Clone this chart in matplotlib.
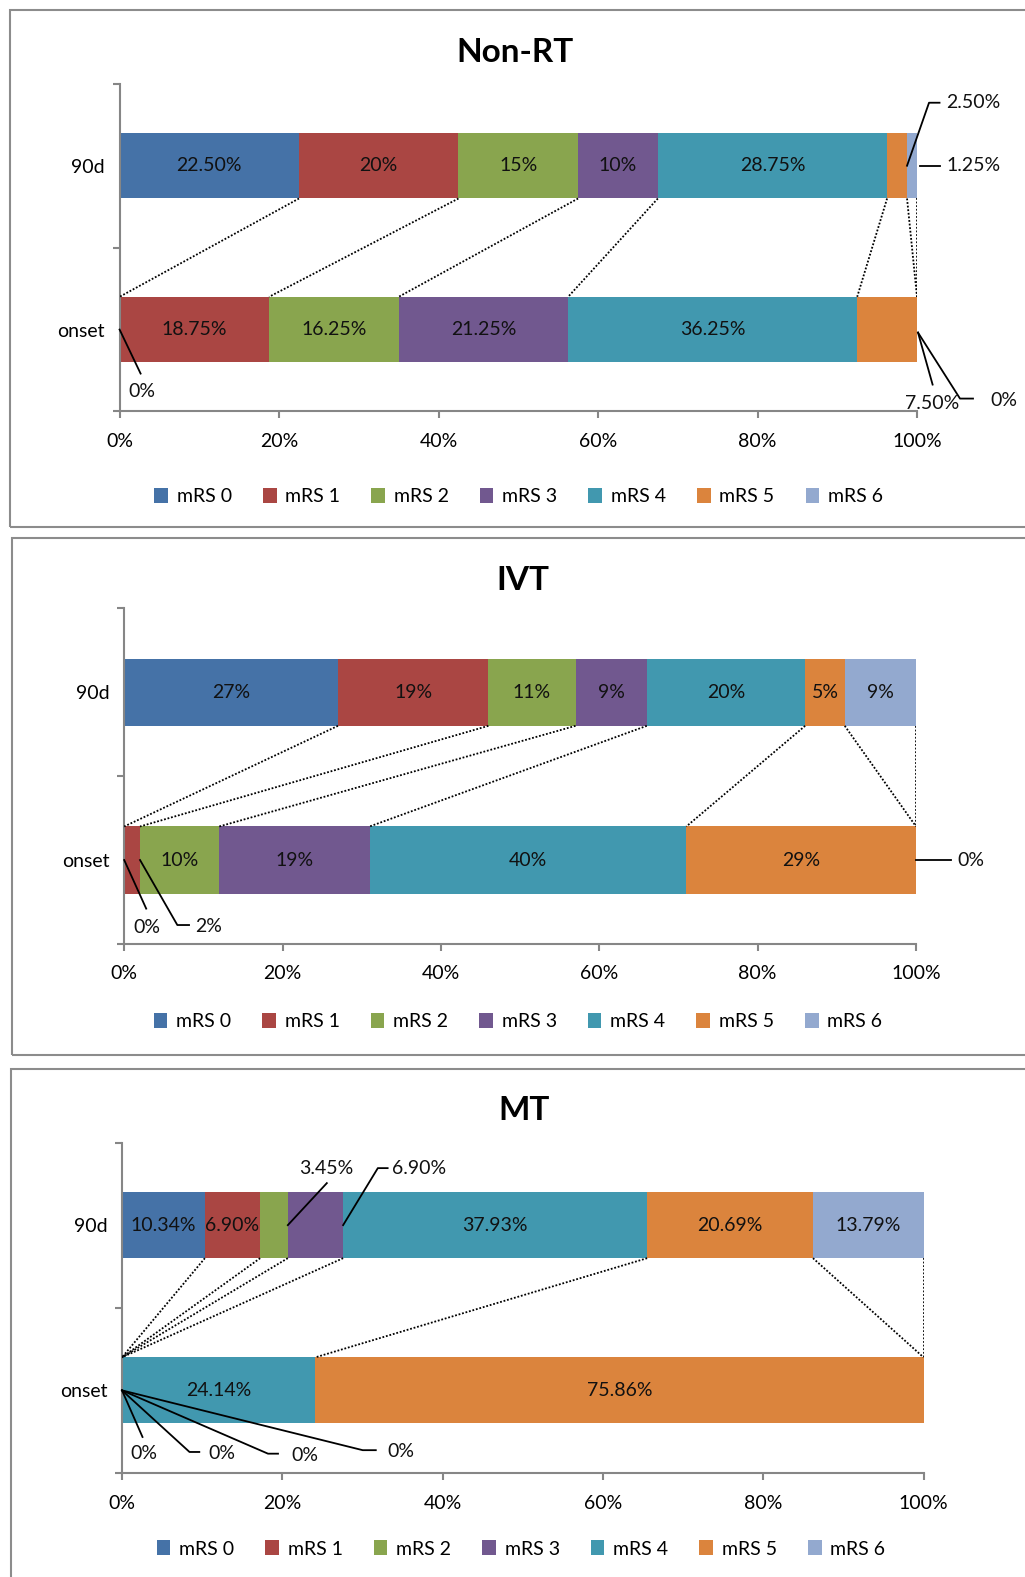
import matplotlib
matplotlib.use('Agg')
import matplotlib.pyplot as plt
import numpy as np
from matplotlib.patches import Rectangle, Patch
from matplotlib.lines import Line2D
from matplotlib.transforms import IdentityTransform

W, H, DPI = 1025, 1577, 100
plt.rcParams['font.family'] = ['Lato', 'DejaVu Sans']

# ---------------- data ----------------
categories = ['onset', '90d']
series_names = ['mRS 0', 'mRS 1', 'mRS 2', 'mRS 3', 'mRS 4', 'mRS 5', 'mRS 6']
colors = ['#4572A7', '#AA4643', '#89A54E', '#71588F', '#4198AF', '#DB843D', '#93A9CF']
titles = ['Non-RT', 'IVT', 'MT']

nonrt_onset = [0, 18.75, 16.25, 21.25, 36.25, 7.50, 0]
nonrt_90d = [22.50, 20, 15, 10, 28.75, 2.50, 1.25]
ivt_onset = [0, 2, 10, 19, 40, 29, 0]
ivt_90d = [27, 19, 11, 9, 20, 5, 9]
mt_onset = [0, 0, 0, 0, 24.14, 75.86, 0]
mt_90d = [10.34, 6.90, 3.45, 6.90, 37.93, 20.69, 13.79]

x_ticks = [0, 20, 40, 60, 80, 100]
x_tick_labels = ['0%', '20%', '40%', '60%', '80%', '100%']

# ---------------- layout (pixels) ----------------
# axes: left, right, top, bottom
axes_px = [(119.6, 917, 83.8, 411.5),
           (124.2, 916, 608.4, 943.9),
           (122, 923.5, 1142.5, 1473)]
title_px = [(515, 52), (523, 580), (524, 1111)]
legend_px = [(518.6, 496.6), (518, 1021.5), (521, 1549)]
frames_px = [(10, 10, 1100, 527), (12, 537.5, 1100, 1055), (11, 1069, 1100, 1650)]

# external labels: (row, series, path offsets px, text offset px, ha)
external = [
    [(1, 5, [(0, 0), (22, 63), (32.5, 63)], (39, 63), 'left'),
     (1, 6, [(3, 0), (22.5, 0)], (29, 0), 'left'),
     (0, 5, [(1, -3), (15.6, -55)], (15.6, -74), 'center'),
     (0, 6, [(1, -3), (43, -69), (56, -69)], (73.6, -71), 'left'),
     (0, 0, [(0, 0), (21, -44)], (22, -62), 'center')],
    [(0, 0, [(0, 0), (22, -48.6)], (23, -67), 'center'),
     (0, 1, [(0, 0), (37.3, -65), (49, -65)], (55.5, -66.6), 'left'),
     (0, 6, [(0, 0), (35, 0)], (41.5, 0), 'left')],
    [(1, 2, [(0, 0), (39, 42)], (38.5, 57), 'center'),
     (1, 3, [(0, 0), (34.7, 57), (44.5, 57)], (49, 57), 'left'),
     (0, 0, [(0, 0), (20.5, -46.6)], (22, -63), 'center'),
     (0, 1, [(0, 0), (67.5, -61.6), (77.3, -61.6)], (86, -63), 'left'),
     (0, 2, [(0, 0), (146, -63.3), (156, -63.3)], (169, -65), 'left'),
     (0, 3, [(0, 0), (240.7, -59.8), (253.8, -59.8)], (265.6, -61), 'left')],
]

panels = [(nonrt_onset, nonrt_90d), (ivt_onset, ivt_90d), (mt_onset, mt_90d)]

FS = 14
AXC = '#868686'


def fmt(v):
    if abs(v - round(v)) < 1e-9:
        return '%d%%' % int(round(v))
    return '%.2f%%' % v


fig = plt.figure(figsize=(W / DPI, H / DPI), dpi=DPI)
fig.patch.set_facecolor('white')

for p, (onset, d90) in enumerate(panels):
    # frame
    fx0, fy0, fx1, fy1 = frames_px[p]
    fig.add_artist(Rectangle((fx0 / W, 1 - fy1 / H), (fx1 - fx0) / W, (fy1 - fy0) / H,
                             transform=fig.transFigure, fill=False,
                             edgecolor='#8c8c8c', linewidth=1.5))
    l, r, t, b = axes_px[p]
    ax = fig.add_axes([l / W, 1 - b / H, (r - l) / W, (b - t) / H])
    ax.set_xlim(0, 100)
    ax.set_ylim(0, 2)
    ax.patch.set_alpha(0)

    rows = [onset, d90]
    ypos = [0.5, 1.5]
    bh = 0.4
    cums = []
    ext_keys = {(e[0], e[1]) for e in external[p]}
    for ri, vals in enumerate(rows):
        vals = np.array(vals, dtype=float)
        left = np.concatenate([[0], np.cumsum(vals)[:-1]])
        cums.append(np.cumsum(vals))
        for si, v in enumerate(vals):
            ax.barh(ypos[ri], v, left=left[si], height=bh, color=colors[si],
                    edgecolor='none', zorder=2)
            if (ri, si) not in ext_keys and v > 0:
                ax.text(left[si] + v / 2, ypos[ri], fmt(v), ha='center', va='center',
                        fontsize=FS, color='#111111', zorder=4)
    # series lines
    for si in range(len(series_names)):
        ax.plot([cums[1][si], cums[0][si]], [ypos[1] - bh / 2, ypos[0] + bh / 2],
                color='black', linestyle=(0, (1, 1)), linewidth=1.3, zorder=3)

    # axes styling
    for s in ['top', 'right']:
        ax.spines[s].set_visible(False)
    for s in ['left', 'bottom']:
        ax.spines[s].set_color(AXC)
        ax.spines[s].set_linewidth(1.5)
    ax.set_xticks(x_ticks)
    ax.set_xticklabels(x_tick_labels, fontsize=FS)
    ax.set_yticks([0, 1, 2])
    ax.set_yticklabels([])
    ax.set_yticks(ypos, minor=True)
    ax.set_yticklabels(categories, minor=True, fontsize=FS)
    ax.tick_params(axis='x', which='major', length=5, width=1.5, color=AXC, pad=10.5)
    ax.tick_params(axis='y', which='major', length=5, width=1.5, color=AXC)
    ax.tick_params(axis='y', which='minor', length=0, pad=10.5)

    # external labels with leader lines
    for (ri, si, path, toff, ha) in external[p]:
        ax_x = cums[ri][si]
        X0, Y0 = ax.transData.transform((ax_x, ypos[ri]))
        xs = [X0 + dx for dx, dy in path]
        ys = [Y0 + dy for dx, dy in path]
        fig.add_artist(Line2D(xs, ys, transform=IdentityTransform(), color='black',
                              linewidth=1.3, zorder=5))
        fig.text(X0 + toff[0], Y0 + toff[1], fmt(rows[ri][si]), transform=IdentityTransform(),
                 ha=ha, va='center', fontsize=FS, color='#111111', zorder=6)

    # title
    tx, ty = title_px[p]
    fig.text(tx / W, 1 - ty / H, titles[p], ha='center', va='center',
             fontsize=24, fontweight='bold', color='black')

    # legend
    handles = [Patch(facecolor=c, edgecolor='none') for c in colors]
    lx, ly = legend_px[p]
    fig.legend(handles, series_names, loc='center', bbox_to_anchor=(lx / W, 1 - ly / H),
               ncol=7, frameon=False, fontsize=FS, handlelength=0.7, handleheight=0.8,
               handletextpad=0.45, columnspacing=1.6, borderaxespad=0, borderpad=0)

fig.savefig('out.png', dpi=DPI, facecolor='white')
